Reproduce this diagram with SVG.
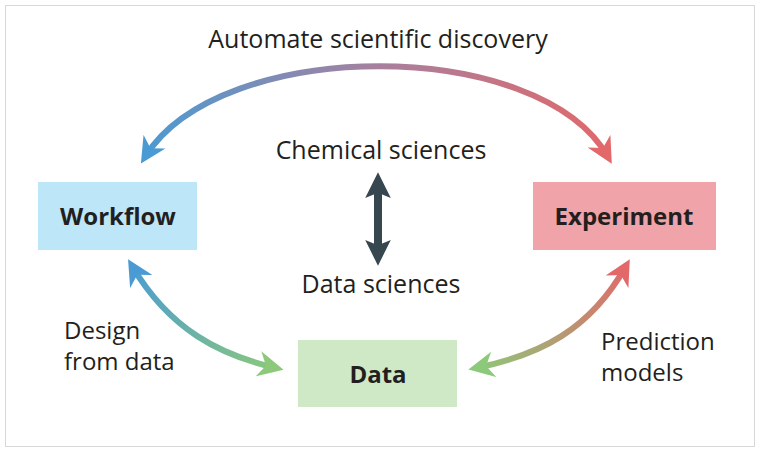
<svg xmlns="http://www.w3.org/2000/svg" width="760" height="453" viewBox="0 0 760 453">
<style>
text{font-family:"Open Sans","Noto Sans",sans-serif;fill:#231f20}
.lbl{font-size:25px}
.sm{font-size:24px}
.node{font-size:24px;font-weight:bold;text-anchor:middle}
.arc{fill:none;stroke-width:6}
</style>
<defs>
<linearGradient id="gTop" gradientUnits="userSpaceOnUse" x1="140" y1="0" x2="615" y2="0"><stop offset="0" stop-color="#4a9bd3"/><stop offset="0.5" stop-color="#a7809e"/><stop offset="1" stop-color="#e2686a"/></linearGradient>
<linearGradient id="gLeft" gradientUnits="userSpaceOnUse" x1="130" y1="262" x2="280" y2="370"><stop offset="0" stop-color="#4a9bd3"/><stop offset="1" stop-color="#8cc97a"/></linearGradient>
<linearGradient id="gRight" gradientUnits="userSpaceOnUse" x1="628" y1="262" x2="472" y2="370"><stop offset="0" stop-color="#e2686a"/><stop offset="1" stop-color="#8cc97a"/></linearGradient>
<marker id="mBlue" viewBox="0 0 10 10" refX="7" refY="5" markerWidth="4.3" markerHeight="4.3" orient="auto-start-reverse"><path d="M0,0 L10,5 L0,10 L3,5z" fill="#4a9bd3"/></marker>
<marker id="mRed" viewBox="0 0 10 10" refX="7" refY="5" markerWidth="4.3" markerHeight="4.3" orient="auto-start-reverse"><path d="M0,0 L10,5 L0,10 L3,5z" fill="#e2686a"/></marker>
<marker id="mGreen" viewBox="0 0 10 10" refX="7" refY="5" markerWidth="4.3" markerHeight="4.3" orient="auto-start-reverse"><path d="M0,0 L10,5 L0,10 L3,5z" fill="#8cc97a"/></marker>
<marker id="mDark" viewBox="0 0 10 10" refX="7" refY="5" markerWidth="3.2" markerHeight="3.2" orient="auto-start-reverse"><path d="M0,0 L10,5 L0,10 L2,5z" fill="#37474f"/></marker>
</defs>
<rect x="5.5" y="5.5" width="749" height="441" fill="#fff" stroke="#d8d8d8" stroke-width="1"/>
<g id="connectors">
<path class="arc" d="M145,157 C220,36 540,36 608,157" stroke="url(#gTop)" marker-start="url(#mBlue)" marker-end="url(#mRed)"/>
<path class="arc" d="M132,266 C170,330 220,355 276,368" stroke="url(#gLeft)" marker-start="url(#mBlue)" marker-end="url(#mGreen)"/>
<path class="arc" d="M626,266 C590,330 540,355 476,368" stroke="url(#gRight)" marker-start="url(#mRed)" marker-end="url(#mGreen)"/>
<path d="M378,180 L378,258" stroke="#37474f" stroke-width="8" marker-start="url(#mDark)" marker-end="url(#mDark)"/>
</g>
<g id="workflow"><rect x="38" y="182" width="159" height="68" fill="#bde6f8"/><text class="node" x="118" y="225">Workflow</text></g>
<g id="experiment"><rect x="533" y="182" width="183" height="68" fill="#f0a3a8"/><text class="node" x="624" y="225">Experiment</text></g>
<g id="data"><rect x="298" y="340" width="159" height="67" fill="#cfe8c5"/><text class="node" x="378" y="383">Data</text></g>
<text class="lbl" x="378" y="48" text-anchor="middle">Automate scientific discovery</text>
<text class="lbl" x="381" y="159" text-anchor="middle">Chemical sciences</text>
<text class="lbl" x="381" y="293" text-anchor="middle">Data sciences</text>
<text class="sm" x="64" y="339">Design</text>
<text class="sm" x="64" y="370">from data</text>
<text class="sm" x="601" y="350">Prediction</text>
<text class="sm" x="601" y="381">models</text>
</svg>
